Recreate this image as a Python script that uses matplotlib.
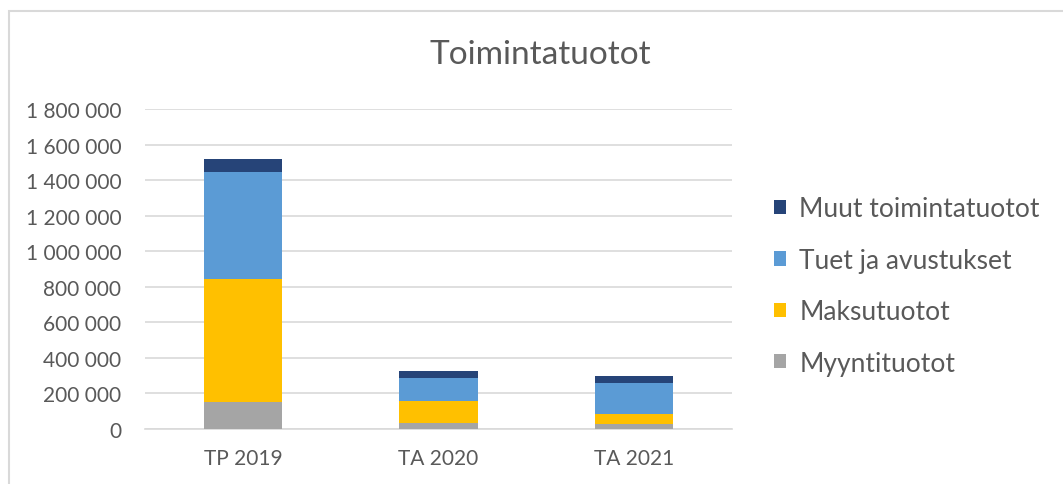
import matplotlib
matplotlib.use('Agg')
import matplotlib.pyplot as plt
from matplotlib.patches import Rectangle
from matplotlib.ticker import FuncFormatter

# Data
categories = ['TP 2019', 'TA 2020', 'TA 2021']
series_names = ['Myyntituotot', 'Maksutuotot', 'Tuet ja avustukset', 'Muut toimintatuotot']
myyntituotot = [152000, 34000, 28000]
maksutuotot = [693000, 124000, 57000]
tuet_ja_avustukset = [599000, 128000, 174000]
muut_toimintatuotot = [77000, 41000, 40000]
colors = ['#A5A5A5', '#FFC000', '#5B9BD5', '#264478']

plt.rcParams['font.family'] = ['Lato', 'DejaVu Sans']
text_color = '#595959'

fig = plt.figure(figsize=(10.63, 4.85), dpi=100)
ax = fig.add_axes([145 / 1063, 55 / 485, 587 / 1063, 320 / 485])

# chart border (light gray frame)
fig.patches.append(Rectangle((9 / 1063, -0.1), 1.2, (485 - 12) / 485 + 0.1,
                             transform=fig.transFigure, fill=False,
                             edgecolor='#D9D9D9', linewidth=1.5))

values = [myyntituotot, maksutuotot, tuet_ja_avustukset, muut_toimintatuotot]
x = range(len(categories))
bottom = [0] * len(categories)
bars = []
for name, vals, c in zip(series_names, values, colors):
    b = ax.bar(x, vals, width=0.4, bottom=bottom, color=c, label=name, zorder=3)
    bars.append(b)
    bottom = [bt + v for bt, v in zip(bottom, vals)]

ax.set_xlim(-0.5, 2.5)
ax.set_ylim(0, 1800000)
ax.set_yticks(range(0, 1800001, 200000))
ax.yaxis.set_major_formatter(FuncFormatter(lambda v, p: f'{int(v):,}'.replace(',', ' ')))
ax.set_xticks(list(x))
ax.set_xticklabels(categories)
ax.grid(axis='y', color='#D9D9D9', linewidth=1.2, zorder=0)
for s in ['top', 'right', 'left']:
    ax.spines[s].set_visible(False)
ax.spines['bottom'].set_color('#D9D9D9')
ax.spines['bottom'].set_linewidth(1.2)
ax.tick_params(axis='both', length=0, colors=text_color, labelsize=15)
ax.tick_params(axis='y', pad=17)
ax.tick_params(axis='x', pad=14)

fig.text(540 / 1063, 1 - 55 / 485, 'Toimintatuotot', ha='center', va='center',
         fontsize=24, color=text_color)

handles = bars[::-1]
leg = fig.legend(handles, series_names[::-1], loc='center left',
                 bbox_to_anchor=(750 / 1063, 1 - 287 / 485), frameon=False,
                 fontsize=19, handlelength=0.47, handleheight=0.47,
                 handletextpad=0.5, labelspacing=1.0, labelcolor=text_color)

fig.savefig('out.png', dpi=100)
